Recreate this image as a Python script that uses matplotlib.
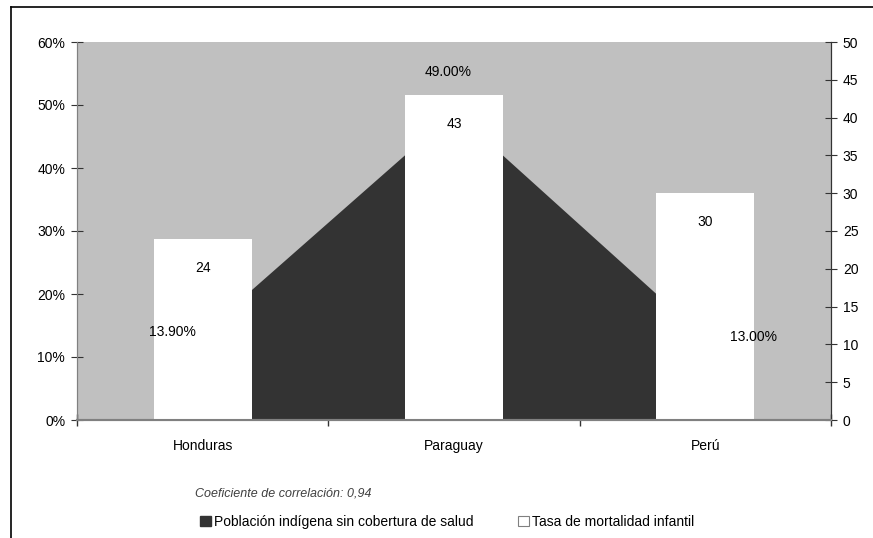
import matplotlib
matplotlib.use("Agg")
import matplotlib.pyplot as plt
from matplotlib.patches import Patch
from matplotlib.lines import Line2D

plt.rcParams['font.family'] = ['Liberation Sans', 'DejaVu Sans']

# data
paises = ['Honduras', 'Paraguay', 'Perú']
sin_cobertura = [13.9, 49.0, 13.0]      # % población indígena sin cobertura
mortalidad = [24, 43, 30]               # tasa de mortalidad infantil
etiquetas_pct = ['13.90%', '49.00%', '13.00%']
offsets_pct = [(-30, 0), (-6, 39), (48, 1)]   # pixel offsets for the area labels

fig = plt.figure(figsize=(8.73, 5.38), dpi=100)
fig.patch.set_facecolor('white')

ax = fig.add_axes([77 / 873, 1 - 420 / 538, (831 - 77) / 873, (420 - 42) / 538])
ax.set_facecolor('#c0c0c0')

x = list(range(len(paises)))
ax.fill_between(x, sin_cobertura, 0, color='#333333', linewidth=0, zorder=1)
ax.set_xlim(-0.5, len(paises) - 0.5)
ax.set_ylim(0, 60)
ax.set_yticks(range(0, 61, 10))
ax.set_yticklabels([f'{v}%' for v in range(0, 61, 10)])

ax2 = ax.twinx()
ax2.bar(x, mortalidad, width=0.39, color='white', linewidth=0, zorder=2)
ax2.set_ylim(0, 50)
ax2.set_yticks(range(0, 51, 5))

for i, v in enumerate(mortalidad):
    ax2.annotate(str(v), (x[i], v), xytext=(0, -29), textcoords='offset pixels',
                 ha='center', va='center', fontsize=10, color='black')

for i, v in enumerate(sin_cobertura):
    ax2.annotate(etiquetas_pct[i], (x[i], v * 50 / 60), xytext=offsets_pct[i],
                 textcoords='offset pixels', ha='center', va='center',
                 fontsize=10, color='black')

# category labels and boundary ticks
ax.set_xticks(x)
ax.set_xticklabels(paises, fontsize=10)
ax.tick_params(axis='x', which='major', length=0, pad=14)
ax.set_xticks([-0.5, 0.5, 1.5, 2.5], minor=True)
ax.tick_params(axis='x', which='minor', length=9, direction='inout', color='#333333', width=1)

ax.tick_params(axis='y', direction='inout', length=9, color='#333333', labelsize=10, pad=4)
ax2.tick_params(axis='y', direction='inout', length=9, color='#333333', labelsize=10, pad=4)

for a in (ax, ax2):
    a.spines['top'].set_visible(False)
    a.spines['left'].set_color('#808080')
    a.spines['bottom'].set_color('#808080')
    a.spines['right'].set_color('#333333')
    a.spines['bottom'].set_linewidth(1.5)

fig.text(195 / 873, 1 - 493 / 538, 'Coeficiente de correlación: 0,94', fontsize=9,
         style='italic', color='#404040', ha='left', va='center')

handles = [Patch(facecolor='#333333', edgecolor='#333333'),
           Patch(facecolor='white', edgecolor='#808080', linewidth=0.8)]
fig.legend(handles, ['Población indígena sin cobertura de salud', 'Tasa de mortalidad infantil'],
           loc='center', bbox_to_anchor=(447 / 873, 1 - 522 / 538), ncol=2, frameon=False,
           fontsize=10, handlelength=0.8, handleheight=0.8, handletextpad=0.2,
           columnspacing=3.2)

# outer frame (left and top edges)
fig.add_artist(Line2D([11 / 873, 11 / 873], [0, 1 - 7 / 538], color='black', linewidth=1.2,
                      transform=fig.transFigure))
fig.add_artist(Line2D([11 / 873, 1], [1 - 7 / 538, 1 - 7 / 538], color='black', linewidth=1.2,
                      transform=fig.transFigure))

fig.savefig('out.png', dpi=100)
